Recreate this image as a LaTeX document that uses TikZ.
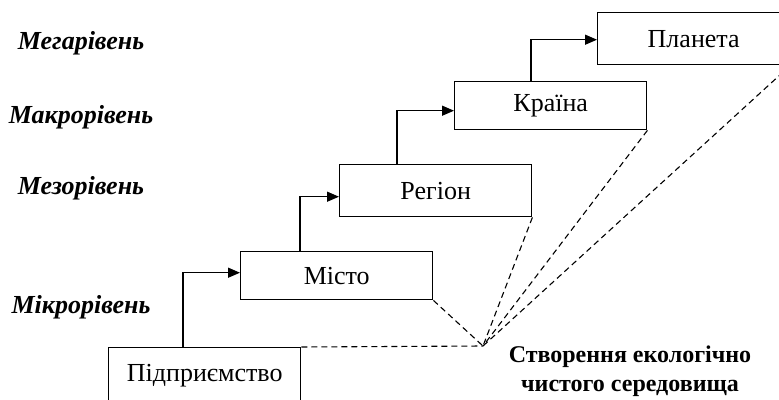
\documentclass[tikz,border=0pt]{standalone}
\usepackage{fontspec}
\setmainfont{Liberation Serif}
\usetikzlibrary{arrows.meta,positioning}
\tikzset{
	level box/.style={draw, line width=1.4pt, inner sep=0pt, anchor=north west,
		minimum width=192pt, minimum height=48pt,
		font=\fontsize{26}{30}\selectfont},
	level name/.style={font=\fontsize{26}{30}\selectfont\bfseries\itshape},
	goal text/.style={align=center, font=\fontsize{24}{29}\selectfont\bfseries},
	step arrow/.style={-{Triangle[length=12pt,width=10pt]}, line width=1.4pt},
	goal line/.style={line width=1.1pt, dash pattern=on 6pt off 4pt}
}
\begin{document}
\begin{tikzpicture}[x=1pt,y=-1pt]
   \useasboundingbox (0,0) rectangle (779,399);
   % boxes, lowest level first
   \node[level box, minimum height=55pt] (firm) at (108,347) {Підприємство};
   \node[level box] (city) at (240,251) {Місто};
   \node[level box, minimum height=52pt] (region) at (339,164) {Регіон};
   \node[level box] (country) at (454,81) {Країна};
   \node[level box, minimum height=52pt] (planet) at (597,12) {Планета};
   \draw[step arrow] ([xshift=75pt]firm.north west) |- ([yshift=3pt]city.west);
   \draw[step arrow] ([xshift=60pt]city.north west) |- ([yshift=-6pt]region.west);
   \draw[step arrow] ([xshift=58pt]region.north west) |- ([yshift=-5pt]country.west);
   \draw[step arrow] ([xshift=77pt]country.north west) |- ([yshift=-1pt]planet.west);
   % common goal
   \coordinate (goal) at (483,346);
   \draw[goal line] (firm.north east) -- (goal);
   \foreach \n in {city,region,country,planet}
      \draw[goal line] (\n.south east) -- (goal);
   \node[goal text] (goaltext) at (630,371) {Створення екологічно\\чистого середовища};
   % level names
   \node[level name] (mega) at (81,43) {Мегарівень};
   \node[level name] (macro) at (81,117) {Макрорівень};
   \node[level name] (meso) at (81,188) {Мезорівень};
   \node[level name] (micro) at (81,307) {Мікрорівень};
\end{tikzpicture}
\end{document}
